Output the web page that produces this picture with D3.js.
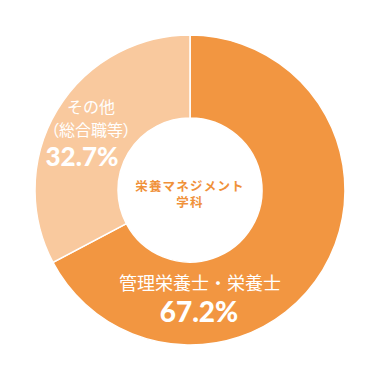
<!DOCTYPE html>
<html><head><meta charset="utf-8">
<script src="https://cdn.jsdelivr.net/npm/d3@7"></script>
<style>html,body{margin:0;padding:0;background:#fff;}svg{display:block;}</style>
</head><body>
<svg id="c" width="380" height="380"></svg>
<script>
const categories = ["管理栄養士・栄養士", "その他（総合職等）"];
const values = [67.2, 32.7];
const valueLabels = ["67.2%", "32.7%"];
const colors = ["#F29641", "#F9C99E"];
const centerLabel = ["栄養マネジメント", "学科"];

const svg = d3.select("#c");
const cx = 190, cy = 190, R = 155, r = 72;
const g = svg.append("g").attr("transform", `translate(${cx},${cy})`);
const pie = d3.pie().sort(null).value(d => d)(values);
const arc = d3.arc().innerRadius(r).outerRadius(R);
g.selectAll("path").data(pie).join("path")
  .attr("d", arc).attr("fill", (d, i) => colors[i])
  .attr("stroke", "#fff").attr("stroke-width", 1.5);

const font = "'Noto Sans CJK JP', 'Noto Sans', sans-serif";
const numFont = "Lato, 'Noto Sans', sans-serif";
// center (one text, two lines)
const ct = g.append("text").attr("text-anchor", "middle").attr("font-family", font)
  .attr("letter-spacing", 1.2).attr("font-weight", 700).attr("font-size", 12.5).attr("fill", "#F0913A");
ct.selectAll("tspan").data(centerLabel).join("tspan")
  .attr("x", 0).attr("y", (d, i) => 1 + i * 16).text(d => d);

// label 1 (main slice)
const t1 = svg.append("text").attr("text-anchor", "middle").attr("fill", "#fff");
t1.append("tspan").attr("x", 200).attr("y", 290).attr("font-family", font).attr("font-size", 18).text(categories[0]);
t1.append("tspan").attr("x", 199).attr("y", 322).attr("font-family", numFont).attr("font-weight", 900)
  .attr("font-size", 28).text(valueLabels[0]);

// label 2
const t2 = svg.append("text").attr("text-anchor", "middle").attr("fill", "#fff");
t2.append("tspan").attr("x", 91).attr("y", 113).attr("font-family", font).attr("font-size", 16).text("その他");
t2.append("tspan").attr("x", 91).attr("y", 136).attr("font-family", font).attr("font-size", 16)
  .style("font-feature-settings", "'palt'").text("（総合職等）");
t2.append("tspan").attr("x", 82).attr("y", 166).attr("font-family", numFont).attr("font-weight", 900)
  .attr("font-size", 26).text(valueLabels[1]);
</script>
</body></html>
